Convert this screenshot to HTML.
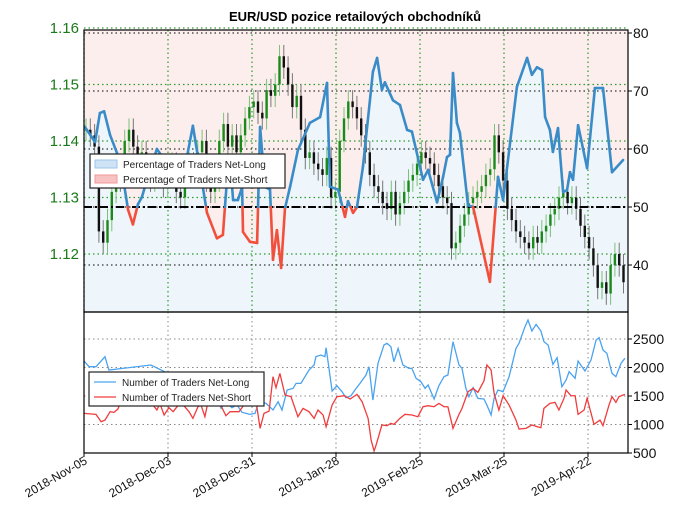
<!DOCTYPE html>
<html><head><meta charset="utf-8"><style>
body{margin:0;background:#fff}
svg{display:block;font-family:"Liberation Sans",sans-serif}
</style></head><body>
<svg id="c" width="680" height="519" viewBox="0 0 680 519">
<text x="355" y="21" text-anchor="middle" font-size="13" font-weight="bold">EUR/USD pozice retailových obchodníků</text>
<g id="gtop"></g><g id="gbot"></g><g id="gax"></g>
</svg>
<script>
const NS="http://www.w3.org/2000/svg";
const closes=[1.142,1.141,1.139,1.124,1.122,1.126,1.131,1.135,1.133,1.140,1.142,1.139,1.136,1.138,1.135,1.133,1.136,1.134,1.132,1.134,1.136,1.131,1.130,1.134,1.136,1.134,1.138,1.140,1.133,1.131,1.133,1.140,1.143,1.139,1.141,1.138,1.141,1.144,1.146,1.147,1.145,1.144,1.149,1.148,1.150,1.155,1.153,1.150,1.146,1.148,1.142,1.137,1.138,1.136,1.135,1.134,1.137,1.130,1.131,1.140,1.144,1.147,1.146,1.144,1.141,1.138,1.134,1.132,1.131,1.129,1.128,1.131,1.127,1.129,1.131,1.133,1.134,1.136,1.138,1.137,1.136,1.134,1.132,1.130,1.129,1.121,1.122,1.125,1.127,1.129,1.130,1.131,1.132,1.134,1.135,1.141,1.138,1.133,1.128,1.126,1.124,1.123,1.122,1.121,1.123,1.122,1.124,1.125,1.127,1.128,1.130,1.131,1.129,1.130,1.128,1.125,1.123,1.121,1.118,1.114,1.115,1.113,1.118,1.120,1.118,1.115];
const sentDays=[0.3,3.7,5.3,6.7,8.7,11,12.7,14.7,16.3,18,19.3,21,24.3,27,30.3,33.7,36.3,41,44.3,46.3,47.7,48.7,49.7,51.3,52.7,53,55.3,57.7,58.7,60.3,62,63,64.3,65.7,67,68.7,71.3,75.3,78.7,81,82,84.7,87,88,89.7,91,93,96.3,97.7,99.3,100.3,103,105.3,107.7,109.3,113,114.7,117.7,119.7,121,122,123,124.3,125.3,128,129.7,135.3,138,139.7,144.3,147.7,149.3,151,152.7,153.7,155.3,156.3,158,159.7,161,162,163,164.7,167.7,170.3,173,176,179.7];
const sentPct=[63.8,61.2,66.2,66.5,62.4,59.3,56,49.5,47,50.5,51.7,54.7,60,58,59,57,64,49,44.6,45.2,55,58,51.2,51.2,53.4,45.7,44,43.8,63.8,53.5,53,40.9,46,39.5,49.8,53.5,59.8,64.5,65.5,71.4,53.5,53,48.3,51,49,50,57,73.3,75.7,70.2,71.5,68.4,67.6,63.3,63,54.7,56.4,50.8,55.2,58.6,59,73.1,64.5,62.8,50.3,50,37.1,55.2,51.2,70.7,75.7,72.8,74.1,73.6,65.5,63.3,59.5,63.6,52.6,52.9,56,54.7,64.1,56.7,70.5,70.5,56,58.1];
const longDays=[0,1.7,4,7,8.3,22.3,44,45.7,47.3,49.3,51,52.7,55.3,57,58.3,60.7,63,64.7,66,67.7,69.7,70.7,72.3,75,76.7,77.3,79,80.3,80.7,82.7,84.3,86,87.3,89,90.3,92,94,95,96.3,98,100,101,102.3,103.3,104.7,106.3,108.3,109.3,110.7,112.3,113.7,114.7,116.7,118.3,120,121.3,123,125,126,127.3,128.3,129.7,131.3,133.3,134.3,135.7,136.7,138,139.7,141.7,144,145,147,148,149.3,150.7,152.3,153.3,154.7,156.3,157.7,159.3,160.7,161.7,163.7,164.7,166,167,169,170.7,171.7,173,174.3,176,177.3,179,180.3];
const longVals=[2114,2014,2014,2190,1956,2044,1488,1283,1400,1295,1341,1213,1178,1195,1400,1371,1254,1400,1254,1605,1634,1722,1722,1956,2044,2190,2219,2190,2348,1587,1681,1576,1470,1505,1605,1722,1868,2014,1430,2073,2395,2424,2365,2102,2336,2044,1985,1985,1810,1751,1634,1693,1447,1681,1839,1868,2453,2044,1985,1634,1488,1646,1459,1447,1341,1166,1459,1605,1576,1839,2336,2424,2716,2833,2640,2757,2640,2453,2395,2055,2172,1663,1780,1927,1810,2114,2014,1938,2131,2482,2523,2307,2248,1897,1839,2073,2161];
const shortDays=[0,4,5.7,7,8.7,10,11.3,13,19.7,21.3,23,24.3,25.3,26.7,28.3,29.7,31.3,33.3,35,36.3,38,39,40.3,41.7,43.3,45,47.3,48.7,51.7,53.3,55.3,57,58.7,60,61.7,63,64,65.3,67,69,71.3,73,75,76.7,78,79.7,80.7,82.7,84.3,86.7,88.7,91,92.7,94.7,95.7,96.7,97.3,99.3,101,102.3,103.3,105.3,107,109.3,111.3,113,114.7,116.7,118.3,120,121.3,123,125,126,128,129.7,131.3,133.3,134.3,135.7,136.7,138.3,139.7,141.7,144,145,147.3,149.3,151,152.3,153.3,155.3,157,158.3,160,160.7,162.3,163.7,164.7,166.7,167.7,170,172,173,175,176,177.3,178.3,180.3];
const shortVals=[1195,1178,1049,1078,1225,1213,1271,1488,1341,1447,1341,1254,1371,1166,1295,1225,1330,1330,1225,1108,1312,1341,1137,1488,1505,1400,1155,1225,1225,1341,1517,1529,932,1195,1236,1839,1646,1897,1517,1488,1137,1283,1225,1108,1254,1166,961,1341,1488,1505,1447,1529,1400,1108,728,535,628,991,979,1020,1003,1108,1178,1166,1137,1312,1330,1312,1371,1312,1312,932,1178,1283,1576,1634,1564,1763,2044,1956,1547,1254,1505,1341,1078,921,932,991,962,944,1283,1371,1388,1254,1459,1605,1505,1505,1178,1254,1459,1003,1078,979,1341,1488,1388,1488,1529];
const xLabels=["2018-Nov-05","2018-Dec-03","2018-Dec-31","2019-Jan-28","2019-Feb-25","2019-Mar-25","2019-Apr-22"];
const xTickDays=[0,28,56,84,112,140,168];
const priceTicks=[1.16,1.15,1.14,1.13,1.12];
const pctTicks=[80,70,60,50,40];
const cntTicks=[2500,2000,1500,1000,500];

const L=84,R=628,T1=30,B1=312,T2=312,B2=453;
const xDay=d=>L+d*3;
const xCandle=i=>86+i*4.3;
const yPrice=p=>28+(1.16-p)*5650;
const yPct=v=>33+(80-v)*5.8;
const yCnt=v=>339+(2500-v)*0.057;
function el(tag,attrs,parent){const e=document.createElementNS(NS,tag);for(const k in attrs)e.setAttribute(k,attrs[k]);parent.appendChild(e);return e;}
const gTop=document.getElementById('gtop'),gBot=document.getElementById('gbot'),gAx=document.getElementById('gax');

let bg=el('rect',{x:L,y:T1,width:R-L,height:B1-T1,fill:'#fdeeee'},gTop);


let ad=`M${L},${B1} L${L},${yPct(sentPct[0])} `+sentDays.map((d,i)=>`L${xDay(d)},${yPct(sentPct[i])}`).join(' ')+` L${R},${yPct(sentPct[sentPct.length-1])} L${R},${B1} Z`;
let area=el('path',{d:ad,fill:'#eef5fb'},gTop);


xTickDays.forEach(d=>{el('line',{x1:xDay(d),x2:xDay(d),y1:T1,y2:B1,stroke:'#2a9a2a','stroke-dasharray':'1.5,3','stroke-width':1.2},gTop);
 el('line',{x1:xDay(d),x2:xDay(d),y1:T2,y2:B2,stroke:'#888','stroke-dasharray':'1.5,3'},gBot);});
priceTicks.forEach(p=>el('line',{x1:L,x2:R,y1:yPrice(p),y2:yPrice(p),stroke:'#2a9a2a','stroke-dasharray':'1.5,3','stroke-width':1.2},gTop));
pctTicks.forEach(v=>el('line',{x1:L,x2:R,y1:yPct(v),y2:yPct(v),stroke:'#333','stroke-dasharray':'1.5,3','stroke-width':1.2},gTop));
cntTicks.forEach(v=>el('line',{x1:L,x2:R,y1:yCnt(v),y2:yCnt(v),stroke:'#888','stroke-dasharray':'1.5,3'},gBot));
closes.forEach((c,i)=>{const o=i?closes[i-1]:c;const up=c>=o;const col=up?'#1a8a1a':'#111';
 const x=xCandle(i);const hi=Math.max(o,c)+0.002,lo=Math.min(o,c)-0.002;
 let w=el('line',{x1:x,x2:x,y1:yPrice(hi),y2:yPrice(lo),stroke:up?'#7bc07b':'#777','stroke-width':1},gTop);
 
 
 let b=el('rect',{x:x-1.2,y:yPrice(Math.max(o,c)),width:2.4,height:Math.max(1,Math.abs(yPrice(c)-yPrice(o))),fill:col},gTop);
 
 });
let fl=el('line',{x1:L,x2:R,y1:yPct(50),y2:yPct(50),stroke:'#000','stroke-width':2,'stroke-dasharray':'8,3,2,3'},gTop);


for(let i=0;i<sentDays.length-1;i++){const x1=xDay(sentDays[i]),x2=xDay(sentDays[i+1]),v1=sentPct[i],v2=sentPct[i+1];
 const seg=(a,b,va,vb)=>{let s=el('line',{x1:a,x2:b,y1:yPct(va),y2:yPct(vb),stroke:(va+vb)/2<50?'#f0503c':'#3a8cc8','stroke-width':2.6,'stroke-linecap':'round'},gTop);
  
  };
 if((v1-50)*(v2-50)<0){const t=(50-v1)/(v2-v1);const xm=x1+t*(x2-x1);seg(x1,xm,v1,50);seg(xm,x2,50,v2);}else seg(x1,x2,v1,v2);}
let lp=el('polyline',{points:longDays.map((d,i)=>xDay(d)+','+yCnt(longVals[i])).join(' '),fill:'none',stroke:'#4aa3f0','stroke-width':1.3},gBot);


let sp=el('polyline',{points:shortDays.map((d,i)=>xDay(d)+','+yCnt(shortVals[i])).join(' '),fill:'none',stroke:'#f03c3c','stroke-width':1.3},gBot);


el('rect',{x:L,y:T1,width:R-L,height:B1-T1,fill:'none',stroke:'#000','stroke-width':1.2},gAx);
el('rect',{x:L,y:T2,width:R-L,height:B2-T2,fill:'none',stroke:'#000','stroke-width':1.2},gAx);
priceTicks.forEach(p=>{let t=el('text',{x:79,y:yPrice(p)+5,'text-anchor':'end','font-size':15,fill:'#1a7a1a'},gAx);t.textContent=p.toFixed(2);
 
 });
pctTicks.forEach(v=>{el('line',{x1:R,x2:R+4,y1:yPct(v),y2:yPct(v),stroke:'#000'},gAx);let t=el('text',{x:633,y:yPct(v)+5,'font-size':14,fill:'#111'},gAx);t.textContent=v;
 
 });
cntTicks.forEach(v=>{el('line',{x1:R,x2:R+4,y1:yCnt(v),y2:yCnt(v),stroke:'#000'},gAx);let t=el('text',{x:633,y:yCnt(v)+5,'font-size':14,fill:'#111'},gAx);t.textContent=v;
 
 });
xTickDays.forEach((d,i)=>{const x=xDay(d);el('line',{x1:x,x2:x,y1:B2,y2:B2+4,stroke:'#000'},gAx);
 let t=el('text',{x:x+4,y:B2+10,'text-anchor':'end','font-size':12,fill:'#111',transform:`rotate(-30 ${x+4} ${B2+10})`},gAx);t.textContent=xLabels[i];
 
 });
function legend(x,y,w,items,name){const g=el('g',{},gAx);
 
 
 el('rect',{x:x,y:y,width:w,height:items.length*15+4,fill:'#fff',stroke:'#222','stroke-width':1.2},g);
 items.forEach((it,i)=>{const yy=y+10+i*15;
  if(it.box)el('rect',{x:x+5,y:yy-4,width:22,height:8,fill:it.fill,stroke:it.stroke},g);
  else el('line',{x1:x+5,x2:x+27,y1:yy,y2:yy,stroke:it.stroke,'stroke-width':1.3},g);
  let t=el('text',{x:x+33,y:yy+4,'font-size':10,fill:'#222'},g);t.textContent=it.label;
  
  });}
legend(90,154,195,[{box:1,fill:'#cfe3f7',stroke:'#9cc4ea',label:'Percentage of Traders Net-Long'},{box:1,fill:'#f8c2c2',stroke:'#f09a9a',label:'Percentage of Traders Net-Short'}],'top-legend');
legend(89,372,175,[{stroke:'#4aa3f0',label:'Number of Traders Net-Long'},{stroke:'#f03c3c',label:'Number of Traders Net-Short'}],'bottom-legend');
</script>
</body></html>
